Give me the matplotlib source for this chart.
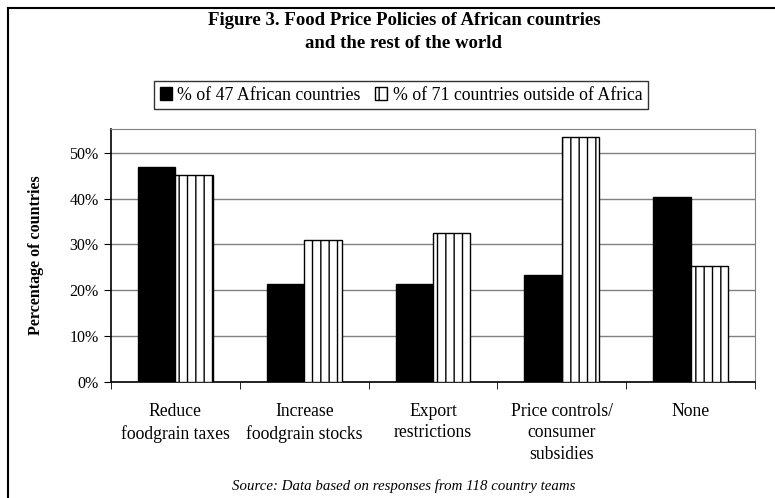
import matplotlib
matplotlib.use('Agg')

import numpy as np
import matplotlib.pyplot as plt
from matplotlib.lines import Line2D
from matplotlib.ticker import FixedLocator, FuncFormatter

plt.rcParams['font.family'] = ['Liberation Serif', 'DejaVu Serif']
plt.rcParams['hatch.linewidth'] = 1.0

# Datos
categorias = ['Reduce\nfoodgrain taxes', 'Increase\nfoodgrain stocks', 'Export\nrestrictions',
              'Price controls/\nconsumer\nsubsidies', 'None']
africa = [46.8, 21.3, 21.3, 23.4, 40.4]
resto = [45.1, 31.0, 32.4, 53.5, 25.4]
etiquetas = ['% of 47 African countries', '% of 71 countries outside of Africa']

W, H = 775, 498
fig = plt.figure(figsize=(W / 100, H / 100), dpi=100)

# Área del gráfico
ax = fig.add_axes([111 / W, 1 - 382 / H, (755 - 111) / W, (382 - 129) / H])

x = np.arange(len(categorias))
ancho = 0.29
b1 = ax.bar(x - ancho / 2, africa, ancho, color='black', edgecolor='black', linewidth=1,
            label=etiquetas[0], zorder=3)
b2 = ax.bar(x + ancho / 2, resto, ancho, color='white', edgecolor='black', linewidth=1,
            hatch='||', label=etiquetas[1], zorder=3)

ax.set_xlim(-0.5, len(categorias) - 0.5)
ax.set_ylim(0, 55.2)
ax.set_yticks(np.arange(0, 51, 10))
ax.yaxis.set_major_formatter(FuncFormatter(lambda v, p: '%d%%' % v))
ax.yaxis.grid(True, color='#808080', linewidth=1, zorder=0)

ax.set_xticks(x)
ax.set_xticklabels(categorias, fontsize=12.7, linespacing=1.35)
ax.tick_params(axis='x', length=0, pad=15)
ax.xaxis.set_minor_locator(FixedLocator(np.arange(-0.5, len(categorias), 1)))
ax.tick_params(axis='x', which='minor', length=5, direction='out', color='black')
ax.tick_params(axis='y', length=5, direction='out', labelsize=11.5, pad=4)

for lado in ['top', 'right']:
    ax.spines[lado].set_color('#808080')
for lado in ['left', 'bottom']:
    ax.spines[lado].set_color('black')
    ax.spines[lado].set_linewidth(1.2)

ax.set_ylabel('Percentage of countries', fontsize=11.5, fontweight='bold', labelpad=18)

# Título
fig.text(404 / W, 1 - 20 / H, 'Figure 3. Food Price Policies of African countries',
         ha='center', va='center', fontsize=13.5, fontweight='bold')
fig.text(404 / W, 1 - 43 / H, 'and the rest of the world',
         ha='center', va='center', fontsize=13.5, fontweight='bold')

# Leyenda
leg = fig.legend(handles=[b1, b2], loc='center', bbox_to_anchor=(401 / W, 1 - 95 / H),
                 ncol=2, fontsize=12.8, frameon=True, fancybox=False, edgecolor='black',
                 handlelength=0.7, handleheight=0.7, handletextpad=0.3, columnspacing=0.8,
                 borderpad=0.3, borderaxespad=0)
leg.get_frame().set_linewidth(1)

# Fuente
fig.text(404 / W, 1 - 486 / H, 'Source: Data based on responses from 118 country teams',
         ha='center', va='center', fontsize=10.7, style='italic')

# Marco exterior (solo se ven los bordes izquierdo y superior)
fig.add_artist(Line2D([8 / W, 8 / W], [0, 1 - 8 / H], color='black', linewidth=1.5,
                      transform=fig.transFigure))
fig.add_artist(Line2D([8 / W, 1], [1 - 8 / H, 1 - 8 / H], color='black', linewidth=1.5,
                      transform=fig.transFigure))

fig.savefig('out.png', dpi=100)
